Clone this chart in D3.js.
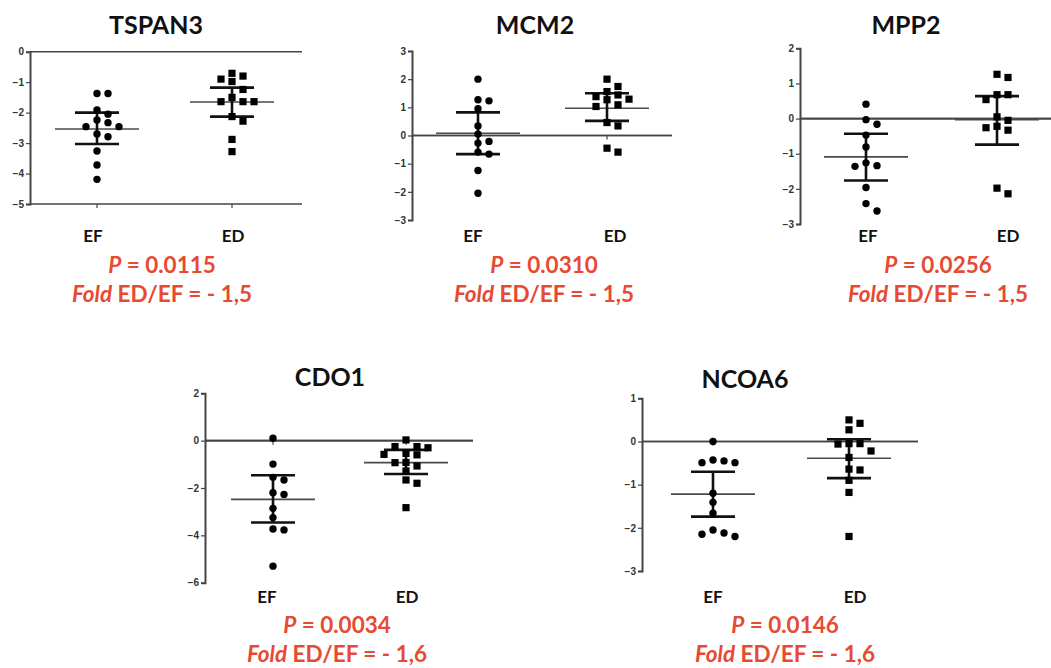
<!DOCTYPE html>
<html>
<head>
<meta charset="utf-8">
<script src="https://cdn.jsdelivr.net/npm/d3@7"></script>
<style>
  body { margin: 0; background: #fff; }
  svg { display: block; }
</style>
</head>
<body>
<svg id="chart" width="1051" height="668"></svg>
<script>
// values
const genes = ["TSPAN3", "MCM2", "MPP2", "CDO1", "NCOA6"];
const groups = ["EF", "ED"];
const pValues = ["0.0115", "0.0310", "0.0256", "0.0034", "0.0146"];
const foldChanges = ["- 1,5", "- 1,5", "- 1,5", "- 1,6", "- 1,6"];

const tspan3EF = [-1.37, -1.37, -1.91, -2.05, -2.24, -2.33, -2.46, -2.46, -2.7, -2.79, -3.26, -3.72, -4.19];
const tspan3ED = [-0.71, -0.8, -0.9, -0.98, -1.24, -1.5, -1.64, -1.64, -1.64, -2.13, -2.28, -2.88, -3.28];
const mcm2EF = [2.0, 1.27, 1.23, 0.95, 0.34, 0.05, -0.21, -0.27, -0.59, -0.66, -1.24, -2.05];
const mcm2ED = [2.0, 1.74, 1.56, 1.44, 1.38, 1.29, 1.27, 1.09, 1.03, 0.46, 0.34, -0.45, -0.59];
const mpp2EF = [0.41, -0.03, -0.16, -0.47, -0.81, -1.26, -1.34, -1.36, -1.96, -2.42, -2.63];
const mpp2ED = [1.26, 1.17, 0.68, 0.68, 0.54, 0.05, -0.05, -0.22, -0.26, -0.33, -1.98, -2.14];
const cdo1EF = [0.1, -0.99, -1.55, -1.66, -2.2, -2.27, -2.86, -3.25, -3.73, -3.77, -5.3];
const cdo1ED = [0.03, -0.25, -0.25, -0.3, -0.54, -0.58, -0.6, -0.92, -0.93, -1.07, -1.28, -1.66, -1.8, -2.83];
const ncoa6EF = [0, -0.43, -0.45, -0.49, -0.49, -1.2, -1.41, -1.66, -2.05, -2.12, -2.15, -2.2];
const ncoa6ED = [0.5, 0.42, 0.27, -0.05, -0.05, -0.06, -0.22, -0.37, -0.64, -0.66, -0.9, -1.18, -2.2];

// mean and error bar ends, [EF, ED]
const tspan3Mean = [-2.54, -1.65], tspan3Upper = [-2.0, -1.18], tspan3Lower = [-3.03, -2.13];
const mcm2Mean = [0.08, 0.97], mcm2Upper = [0.82, 1.5], mcm2Lower = [-0.66, 0.52];
const mpp2Mean = [-1.09, -0.03], mpp2Upper = [-0.43, 0.64], mpp2Lower = [-1.76, -0.74];
const cdo1Mean = [-2.48, -0.93], cdo1Upper = [-1.46, -0.39], cdo1Lower = [-3.46, -1.41];
const ncoa6Mean = [-1.22, -0.39], ncoa6Upper = [-0.7, 0.05], ncoa6Lower = [-1.74, -0.85];

const tspan3Ticks = [0, -1, -2, -3, -4, -5];
const mcm2Ticks = [3, 2, 1, 0, -1, -2, -3];
const mpp2Ticks = [2, 1, 0, -1, -2, -3];
const cdo1Ticks = [2, 0, -2, -4, -6];
const ncoa6Ticks = [1, 0, -1, -2, -3];

const panels = [
    {ef: tspan3EF, ed: tspan3ED, mean: tspan3Mean, upper: tspan3Upper, lower: tspan3Lower, ticks: tspan3Ticks, axisAt: -5},
    {ef: mcm2EF, ed: mcm2ED, mean: mcm2Mean, upper: mcm2Upper, lower: mcm2Lower, ticks: mcm2Ticks, axisAt: 0},
    {ef: mpp2EF, ed: mpp2ED, mean: mpp2Mean, upper: mpp2Upper, lower: mpp2Lower, ticks: mpp2Ticks, axisAt: 0},
    {ef: cdo1EF, ed: cdo1ED, mean: cdo1Mean, upper: cdo1Upper, lower: cdo1Lower, ticks: cdo1Ticks, axisAt: 0},
    {ef: ncoa6EF, ed: ncoa6ED, mean: ncoa6Mean, upper: ncoa6Upper, lower: ncoa6Lower, ticks: ncoa6Ticks, axisAt: 0}
];

// where each panel sits on the page
const layout = [
    {axisX: 30, yRange: [51.7, 204], xs: [97, 232], lineEnd: 302, titleX: 156, titleY: 34, labelY: 242, labelDx: [-4, 1], textX: 162, pY: 273, foldY: 302},
    {axisX: 412, yRange: [51, 220], xs: [478, 607], lineEnd: 672, titleX: 535, titleY: 34, labelY: 242, labelDx: [-5, 8], textX: 544, pY: 273, foldY: 302},
    {axisX: 800, yRange: [48.3, 224], xs: [866, 997], lineEnd: 1051, titleX: 906, titleY: 34, labelY: 242, labelDx: [2, 11], textX: 938, pY: 273, foldY: 302},
    {axisX: 205, yRange: [393.3, 582.7], xs: [273, 406], lineEnd: 473, titleX: 330, titleY: 386, labelY: 603, labelDx: [-6, 1], textX: 337, pY: 633, foldY: 662},
    {axisX: 642, yRange: [398.3, 571], xs: [713, 849], lineEnd: 918, titleX: 745, titleY: 388, labelY: 603, labelDx: [0, 6], textX: 785, pY: 633, foldY: 662}
];

const RED = "#e64a33";
const FONT = "Lato, 'Open Sans', sans-serif";
const svg = d3.select("#chart");

// spread points that would overlap into side columns
function dodge(values, y) {
    const placed = [];
    const order = [0, 1, -1, 2, -2, 3, -3];
    return values.map(v => {
        const py = y(v);
        for (const k of order) {
            if (!placed.some(p => p.col === k && Math.abs(p.py - py) < 8)) {
                placed.push({col: k, py});
                return {v, col: k};
            }
        }
        return {v, col: 0};
    });
}

panels.forEach((panel, i) => {
    const lay = layout[i];
    const g = svg.append("g");

    const y = d3.scaleLinear()
        .domain([panel.ticks[0], panel.ticks[panel.ticks.length - 1]])
        .range(lay.yRange);
    const x = d3.scalePoint()
        .domain(groups)
        .range(lay.xs);

    // zero reference line
    g.append("line")
        .attr("x1", lay.axisX).attr("x2", lay.lineEnd)
        .attr("y1", y(0)).attr("y2", y(0))
        .attr("stroke", "#444").attr("stroke-width", 1.6);

    // x axis (bottom for TSPAN3, through zero otherwise)
    const xAxisY = y(panel.axisAt);
    g.append("line")
        .attr("x1", lay.axisX).attr("x2", lay.lineEnd)
        .attr("y1", xAxisY).attr("y2", xAxisY)
        .attr("stroke", "#444").attr("stroke-width", 1.6);
    g.selectAll(".xtick")
        .data(groups)
        .join("line")
            .attr("x1", d => x(d)).attr("x2", d => x(d))
            .attr("y1", xAxisY).attr("y2", xAxisY + 4)
            .attr("stroke", "#444").attr("stroke-width", 1.2);

    // y axis
    const yAxis = g.append("g")
        .attr("transform", `translate(${lay.axisX},0)`)
        .call(d3.axisLeft(y).tickValues(panel.ticks).tickSize(4).tickPadding(2).tickFormat(d3.format("d")));
    yAxis.select(".domain").attr("stroke", "#444").attr("stroke-width", 2);
    yAxis.selectAll(".tick line").attr("stroke", "#444").attr("stroke-width", 1.2);
    yAxis.selectAll(".tick text")
        .attr("font-family", "'Liberation Sans', Arial, sans-serif")
        .attr("font-size", 10)
        .attr("font-weight", "bold")
        .attr("fill", "#333");

    // mean lines
    g.selectAll(".mean")
        .data(groups)
        .join("line")
            .attr("x1", d => x(d) - 42).attr("x2", d => x(d) + 42)
            .attr("y1", (d, j) => y(panel.mean[j])).attr("y2", (d, j) => y(panel.mean[j]))
            .attr("stroke", "#4a4a4a").attr("stroke-width", 1.6);

    // error bars
    groups.forEach((grp, j) => {
        const cx = x(grp);
        const bar = g.append("g").attr("stroke", "#111").attr("stroke-width", 2.6);
        bar.append("line").attr("x1", cx).attr("x2", cx).attr("y1", y(panel.upper[j])).attr("y2", y(panel.lower[j]));
        bar.append("line").attr("x1", cx - 22).attr("x2", cx + 22).attr("y1", y(panel.upper[j])).attr("y2", y(panel.upper[j]));
        bar.append("line").attr("x1", cx - 22).attr("x2", cx + 22).attr("y1", y(panel.lower[j])).attr("y2", y(panel.lower[j]));
    });

    // EF points (circles)
    g.selectAll(".ef")
        .data(dodge(panel.ef, y))
        .join("circle")
            .attr("cx", d => x("EF") + d.col * 11)
            .attr("cy", d => y(d.v))
            .attr("r", 3.7)
            .attr("fill", "#000");

    // ED points (squares)
    g.selectAll(".ed")
        .data(dodge(panel.ed, y))
        .join("rect")
            .attr("x", d => x("ED") + d.col * 11 - 3.6)
            .attr("y", d => y(d.v) - 3.6)
            .attr("width", 7.2).attr("height", 7.2)
            .attr("fill", "#000");

    // title
    svg.append("text")
        .attr("x", lay.titleX).attr("y", lay.titleY)
        .attr("text-anchor", "middle")
        .attr("font-family", FONT).attr("font-weight", "bold").attr("font-size", 25)
        .attr("fill", "#111")
        .text(genes[i]);

    // group labels
    svg.selectAll(null)
        .data(groups)
        .join("text")
            .attr("x", (d, j) => x(d) + lay.labelDx[j]).attr("y", lay.labelY)
            .attr("text-anchor", "middle")
            .attr("font-family", FONT).attr("font-weight", "bold").attr("font-size", 17)
            .attr("fill", "#111")
            .text(d => d);

    // statistics
    const pText = svg.append("text")
        .attr("x", lay.textX).attr("y", lay.pY)
        .attr("text-anchor", "middle")
        .attr("font-family", FONT).attr("font-weight", "bold").attr("font-size", 22.5)
        .attr("fill", RED);
    pText.append("tspan").attr("font-style", "italic").text("P");
    pText.append("tspan").text(" = " + pValues[i]);

    const foldText = svg.append("text")
        .attr("x", lay.textX).attr("y", lay.foldY)
        .attr("text-anchor", "middle")
        .attr("font-family", FONT).attr("font-weight", "bold").attr("font-size", 22.5)
        .attr("fill", RED);
    foldText.append("tspan").attr("font-style", "italic").text("Fold");
    foldText.append("tspan").text(" ED/EF = " + foldChanges[i]);
});
</script>
</body>
</html>
